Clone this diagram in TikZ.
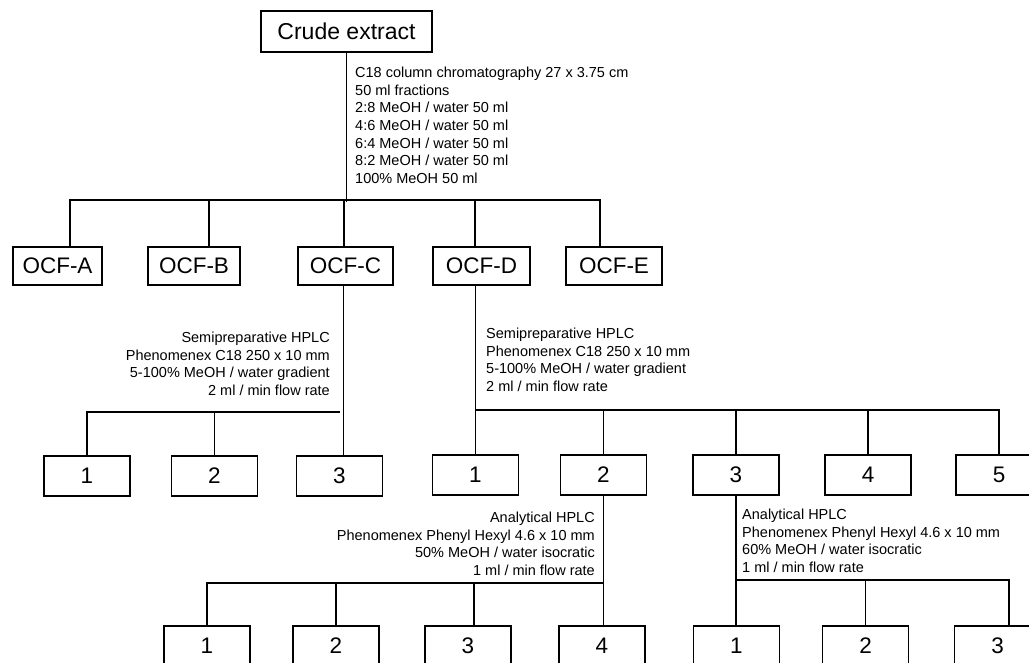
\documentclass[tikz,border=0pt]{standalone}
\usepackage{fontspec}
\setmainfont{Liberation Sans}
\usetikzlibrary{positioning}

\begin{document}
\begin{tikzpicture}[
    x=1pt, y=-1pt,
    box/.style={rectangle, draw, line width=1.6pt, minimum width=86pt, minimum height=40pt, inner sep=0pt, font=\fontsize{22.5}{26}\selectfont},
    ocf/.style={box, minimum height=38pt},
    note/.style={inner sep=0pt, font=\fontsize{14.5}{17.6}\selectfont},
    link/.style={line width=1.6pt}
]
    \clip (0,0) rectangle (1029,663);

    % Crude extract
    \node[box, minimum width=171pt, minimum height=41pt, font=\fontsize{23}{27}\selectfont] (crude) at (346.5,31.5) {Crude extract};
    \node[note, anchor=north west, align=left] (colnote) at (355,67) {
        C18 column chromatography 27 x 3.75 cm\\
        50 ml fractions\\
        2:8 MeOH / water 50 ml\\
        4:6 MeOH / water 50 ml\\
        6:4 MeOH / water 50 ml\\
        8:2 MeOH / water 50 ml\\
        100\% MeOH 50 ml
    };

    % Column fractions
    \node[ocf, minimum width=89pt] (ocfA) at (57.5,266) {OCF-A};
    \node[ocf, minimum width=92pt] (ocfB) at (194,266) {OCF-B};
    \node[ocf, minimum width=95pt] (ocfC) at (345.5,266) {OCF-C};
    \node[ocf, minimum width=97pt] (ocfD) at (481.5,266) {OCF-D};
    \node[ocf, minimum width=96pt] (ocfE) at (614,266) {OCF-E};

    \draw[link] (crude.south) -- ++(0,149);
    \draw[link] ([xshift=12.5]ocfA.north) -- ++(0,-46) -| ([xshift=-14]ocfE.north);
    \foreach \n/\s in {ocfB/15, ocfC/-1.5, ocfD/-6.5}
        \draw[link] ([xshift=\s]\n.north) -- ++(0,-46);

    % Semipreparative HPLC of OCF-C
    \node[note, anchor=north east, align=right] (semiC) at (330,332) {
        Semipreparative HPLC\\
        Phenomenex C18 250 x 10 mm\\
        5-100\% MeOH / water gradient\\
        2 ml / min flow rate
    };
    \node[box] (c1) at (87,476) {1};
    \node[box] (c2) at (214.5,476) {2};
    \node[box] (c3) at (339.5,476) {3};

    \coordinate (busC) at (0,412);
    \draw[link] ([xshift=-2]ocfC.south) -- ++(0,171);
    \draw[link] (c1.north) |- (c3.north |- busC);
    \draw[link] (c2.north) -- (c2.north |- busC);

    % Semipreparative HPLC of OCF-D
    \node[note, anchor=north west, align=left] (semiD) at (486,328) {
        Semipreparative HPLC\\
        Phenomenex C18 250 x 10 mm\\
        5-100\% MeOH / water gradient\\
        2 ml / min flow rate
    };
    \node[box] (d1) at (475.5,475) {1};
    \node[box] (d2) at (603.5,475) {2};
    \node[box] (d3) at (736,475) {3};
    \node[box] (d4) at (868,475) {4};
    \node[box] (d5) at (999,475) {5};

    \coordinate (busD) at (0,410);
    \draw[link] ([xshift=-6]ocfD.south) -- ++(0,170);
    \draw[link] (d1.north |- busD) -| (d5.north);
    \foreach \n in {d2,d3,d4}
        \draw[link] (\n.north) -- (\n.north |- busD);

    % Analytical HPLC of D-2
    \node[note, anchor=north east, align=right] (anaE) at (595,512) {
        Analytical HPLC\\
        Phenomenex Phenyl Hexyl 4.6 x 10 mm\\
        50\% MeOH / water isocratic\\
        1 ml / min flow rate
    };
    \node[box] (e1) at (207,646) {1};
    \node[box] (e2) at (336,646) {2};
    \node[box] (e3) at (468,646) {3};
    \node[box] (e4) at (602,646) {4};

    \coordinate (busE) at (0,583);
    \draw[link] (d2.south) -- (d2.south |- e4.north);
    \draw[link] (e1.north) |- (d2.south |- busE);
    \draw[link] (e2.north) -- (e2.north |- busE);
    \draw[link] ([xshift=6]e3.north) -- ++(0,-43);

    % Analytical HPLC of D-3
    \node[note, anchor=north west, align=left] (anaF) at (742,509) {
        Analytical HPLC\\
        Phenomenex Phenyl Hexyl 4.6 x 10 mm\\
        60\% MeOH / water isocratic\\
        1 ml / min flow rate
    };
    \node[box] (f1) at (736.5,646) {1};
    \node[box] (f2) at (865.5,646) {2};
    \node[box] (f3) at (997.5,646) {3};

    \coordinate (busF) at (0,580);
    \draw[link] (d3.south) -- (d3.south |- f1.north);
    \draw[link] (d3.south |- busF) -| ([xshift=11.5]f3.north);
    \draw[link] (f2.north) -- (f2.north |- busF);
\end{tikzpicture}
\end{document}
